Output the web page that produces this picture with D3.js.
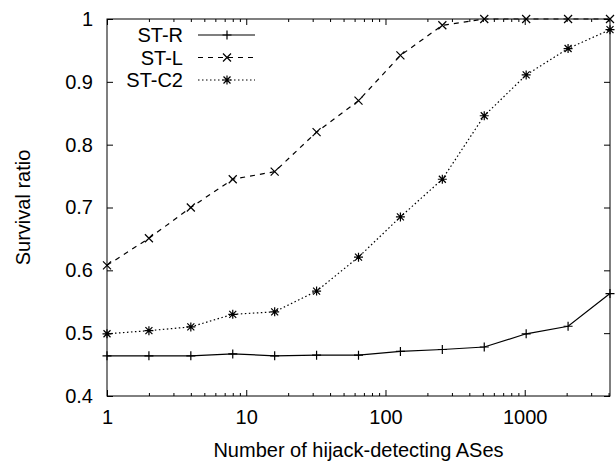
<!DOCTYPE html>
<html lang="en">
<head>
<meta charset="UTF-8">
<title>Survival ratio vs hijack-detecting ASes</title>
<script src="https://d3js.org/d3.v7.min.js"></script>
<style>
    body { margin: 0; padding: 0; background: #fff; }
    svg { display: block; font-family: "Liberation Sans", Arial, Helvetica, sans-serif; }
    .axis path { display: none; }
    .axis line { stroke: #000; stroke-width: 1; }
    .axis text { font-size: 20px; fill: #000; }
</style>
</head>
<body>
<svg id="vis"></svg>
<script>
    // detecting ASes (x, log scale)
    const detectors = [1, 2, 4, 8, 16, 32, 64, 128, 256, 512, 1024, 2048, 4096];
    const seriesNames = ["ST-R", "ST-L", "ST-C2"];
    const stR = [0.464, 0.464, 0.464, 0.467, 0.464, 0.465, 0.465, 0.471, 0.474, 0.478, 0.499, 0.511, 0.563];
    const stL = [0.608, 0.651, 0.700, 0.745, 0.757, 0.820, 0.870, 0.942, 0.990, 1.0, 1.0, 1.0, 1.0];
    const stC2 = [0.499, 0.504, 0.510, 0.530, 0.534, 0.567, 0.621, 0.685, 0.745, 0.846, 0.911, 0.953, 0.983];
    const xTicks = [1, 10, 100, 1000];
    const yTicks = [0.4, 0.5, 0.6, 0.7, 0.8, 0.9, 1];

    const width = 616, height = 464;
    const m = { left: 107, right: 6, top: 19, bottom: 68 };

    const svg = d3.select("#vis").attr("width", width).attr("height", height);

    const x = d3.scaleLog().domain([1, 4096]).range([m.left, width - m.right]);
    const y = d3.scaleLinear().domain([0.4, 1]).range([height - m.bottom, m.top]);

    // minor ticks 2..9 per decade
    const minor = [];
    [1, 10, 100, 1000].forEach(d => {
        for (let k = 2; k <= 9; k++) if (d * k <= 4096) minor.push(d * k);
    });

    const x0 = x.range()[0], x1 = x.range()[1];
    const y0 = y.range()[0], y1 = y.range()[1];

    // bottom axis with labels
    svg.append("g").attr("class", "axis")
        .attr("transform", `translate(0,${y0})`)
        .call(d3.axisBottom(x).tickValues(xTicks).tickSizeInner(-6).tickSizeOuter(0)
            .tickPadding(14).tickFormat(d3.format("d")));
    svg.append("g").attr("class", "axis")
        .attr("transform", `translate(0,${y0})`)
        .call(d3.axisBottom(x).tickValues(minor).tickSizeInner(-3).tickSizeOuter(0).tickFormat(""));
    // top mirror
    svg.append("g").attr("class", "axis")
        .attr("transform", `translate(0,${y1})`)
        .call(d3.axisTop(x).tickValues(xTicks).tickSizeInner(-6).tickSizeOuter(0).tickFormat(""));
    svg.append("g").attr("class", "axis")
        .attr("transform", `translate(0,${y1})`)
        .call(d3.axisTop(x).tickValues(minor).tickSizeInner(-3).tickSizeOuter(0).tickFormat(""));

    // left axis with labels
    svg.append("g").attr("class", "axis")
        .attr("transform", `translate(${x0},0)`)
        .call(d3.axisLeft(y).tickValues(yTicks).tickSizeInner(-6).tickSizeOuter(0)
            .tickPadding(14).tickFormat(d => d === 1 ? "1" : d3.format(".1f")(d)));
    // right mirror
    svg.append("g").attr("class", "axis")
        .attr("transform", `translate(${x1},0)`)
        .call(d3.axisRight(y).tickValues(yTicks).tickSizeInner(-6).tickSizeOuter(0).tickFormat(""));

    // frame
    svg.append("rect")
        .attr("x", x0).attr("y", y1)
        .attr("width", x1 - x0).attr("height", y0 - y1)
        .attr("fill", "none").attr("stroke", "#000").attr("stroke-width", 1);

    // axis titles
    svg.append("text")
        .attr("x", (x0 + x1) / 2).attr("y", 457)
        .attr("text-anchor", "middle").attr("font-size", 20)
        .text("Number of hijack-detecting ASes");
    svg.append("text")
        .attr("transform", `translate(30,${(y0 + y1) / 2}) rotate(-90)`)
        .attr("text-anchor", "middle").attr("font-size", 20)
        .text("Survival ratio");

    // markers
    function drawMarker(g, type, cx, cy) {
        const s = 4.5;
        const p = d3.path();
        if (type === "plus" || type === "star") {
            p.moveTo(cx - s, cy); p.lineTo(cx + s, cy);
            p.moveTo(cx, cy - s); p.lineTo(cx, cy + s);
        }
        if (type === "cross" || type === "star") {
            const c = type === "star" ? 3.5 : 4;
            p.moveTo(cx - c, cy - c); p.lineTo(cx + c, cy + c);
            p.moveTo(cx - c, cy + c); p.lineTo(cx + c, cy - c);
        }
        g.append("path").attr("d", p.toString())
            .attr("stroke", "#000").attr("stroke-width", 1.2).attr("fill", "none");
    }

    const series = [
        { name: seriesNames[0], values: stR, dash: null, marker: "plus" },
        { name: seriesNames[1], values: stL, dash: "5,5", marker: "cross" },
        { name: seriesNames[2], values: stC2, dash: "1.5,2.5", marker: "star" }
    ];

    const line = d3.line().x(d => x(d[0])).y(d => y(d[1]));

    const plot = svg.append("g");
    series.forEach(s => {
        const pts = detectors.map((d, i) => [d, s.values[i]]);
        plot.append("path")
            .datum(pts)
            .attr("d", line)
            .attr("fill", "none")
            .attr("stroke", "#000")
            .attr("stroke-width", 1.2)
            .attr("stroke-dasharray", s.dash);
        pts.forEach(p => drawMarker(plot, s.marker, x(p[0]), y(p[1])));
    });

    // legend
    const legend = svg.append("g");
    series.forEach((s, i) => {
        const ly = 35 + i * 22.5;
        legend.append("text")
            .attr("x", 183).attr("y", ly).attr("dy", "0.35em")
            .attr("text-anchor", "end").attr("font-size", 20)
            .text(s.name);
        legend.append("line")
            .attr("x1", 198).attr("x2", 255).attr("y1", ly).attr("y2", ly)
            .attr("stroke", "#000").attr("stroke-width", 1.2)
            .attr("stroke-dasharray", s.dash);
        drawMarker(legend, s.marker, 227, ly);
    });
</script>
</body>
</html>
